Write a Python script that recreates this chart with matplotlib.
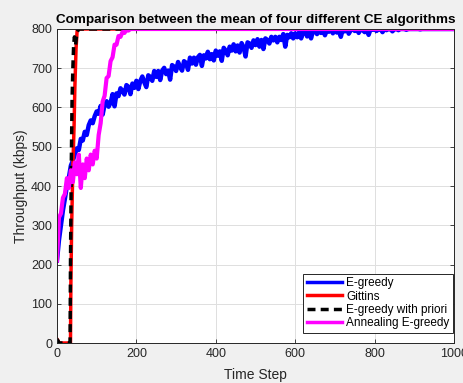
import numpy as np
import matplotlib
matplotlib.use('Agg')
import matplotlib.pyplot as plt

greedy_x = np.arange(0, 1001, 5)
greedy_y = [
    210, 262, 300, 338, 368, 400, 422, 452, 465, 480,
    496, 492, 520, 516, 538, 530, 555, 567, 560, 578,
    590, 584, 604, 582, 607, 616, 602, 612, 634, 603,
    636, 629, 649, 642, 633, 657, 653, 634, 661, 650,
    668, 647, 668, 679, 664, 652, 682, 678, 668, 693,
    678, 693, 670, 694, 701, 685, 694, 671, 708, 704,
    693, 716, 703, 694, 718, 714, 696, 727, 712, 727,
    709, 728, 734, 706, 733, 725, 742, 723, 736, 720,
    745, 732, 743, 719, 752, 745, 733, 755, 745, 761,
    743, 758, 740, 764, 754, 730, 766, 763, 752, 771,
    759, 774, 755, 772, 749, 776, 772, 763, 780, 771,
    780, 766, 780, 772, 787, 755, 785, 779, 789, 776,
    789, 779, 792, 776, 792, 796, 781, 793, 776, 796,
    795, 787, 798, 790, 799, 784, 798, 793, 800, 789,
    800, 791, 798, 780, 800, 794, 800, 788, 797, 800,
    795, 800, 790, 800, 797, 792, 800, 785, 800, 798,
    800, 795, 800, 800, 792, 800, 797, 800, 800, 794,
    800, 800, 797, 800, 800, 800, 798, 800, 800, 800,
    800, 800, 800, 799, 800, 800, 800, 800, 800, 800,
    800, 800, 800, 800, 800, 800, 800, 800, 800, 800,
    800,
]

gittins_x = [0, 3, 5, 34, 35, 37, 40, 43, 45, 48, 51, 1000]
gittins_y = [10, 5, 0, 0, 150, 300, 450, 550, 650, 750, 800, 800]

priori_x = [0, 3, 5, 33, 34, 36, 38, 40, 42, 44, 47, 50, 55, 1000]
priori_y = [10, 5, 0, 0, 200, 450, 620, 700, 760, 780, 760, 790, 800, 800]

anneal_x = [0, 5, 10, 15, 20, 25, 30, 35, 40, 45, 50, 55, 60, 65, 70, 75,
            80, 85, 90, 95, 100, 105, 110, 115, 120, 125, 130, 135, 140,
            145, 150, 155, 160, 165, 170, 175, 180, 185, 200, 1000]
anneal_y = [210, 320, 330, 370, 380, 420, 395, 440, 410, 460, 430, 480,
            395, 455, 420, 470, 440, 480, 455, 490, 470, 530, 560, 615,
            630, 675, 680, 718, 728, 760, 760, 782, 780, 792, 790, 798,
            796, 800, 800, 800]

plt.rcParams['font.family'] = ['Liberation Sans', 'DejaVu Sans']

fig = plt.figure(figsize=(4.64, 3.83), dpi=100, facecolor='#f0f0f0')
ax = fig.add_axes([0.1228, 0.1044, 0.8556, 0.8199])

ax.plot(greedy_x, greedy_y, color='#0000ff', lw=3.2, label='E-greedy')
ax.plot(gittins_x, gittins_y, color='#ff0000', lw=2.5, label='Gittins')
ax.plot(priori_x, priori_y, color='black', lw=2.5, ls=(0, (2.3, 1.5)),
        label='E-greedy with priori')
ax.plot(anneal_x, anneal_y, color='#ff00ff', lw=3.0, label='Annealing E-greedy')

ax.set_xlim(0, 1000)
ax.set_ylim(0, 800)
ax.set_xticks(np.arange(0, 1001, 200))
ax.set_yticks(np.arange(0, 801, 100))
ax.grid(True, color='#dfdfdf', lw=0.7)
ax.tick_params(direction='in', top=True, right=True, labelsize=9,
               colors='#262626', length=3, width=0.6)
for s in ax.spines.values():
    s.set_color('#262626')
    s.set_linewidth(0.7)

ax.set_title('Comparison between the mean of four different CE algorithms',
             fontsize=9.7, fontweight='bold', pad=4)
ax.set_xlabel('Time Step', fontsize=10, color='#262626', labelpad=6)
ax.set_ylabel('Throughput (kbps)', fontsize=10, color='#262626', labelpad=2)

leg = ax.legend(loc='lower right', bbox_to_anchor=(0.997, 0.032),
                borderaxespad=0, fontsize=8.5, handlelength=3.0,
                fancybox=False, framealpha=1, edgecolor='#262626',
                borderpad=0.3, labelspacing=0.12, handletextpad=0.3)
leg.get_frame().set_linewidth(0.7)
for line in leg.get_lines():
    line.set_linewidth(2.5)

fig.savefig('out.png', dpi=100, facecolor=fig.get_facecolor())
